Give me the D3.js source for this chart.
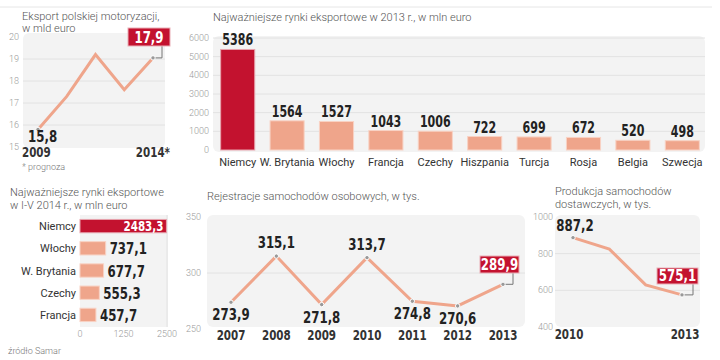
<!DOCTYPE html>
<html><head><meta charset="utf-8">
<script src="https://cdn.jsdelivr.net/npm/d3@7"></script>
<style>
body{margin:0;background:#fff;}
.t{font-family:Roboto,"Open Sans",sans-serif;font-weight:300;font-size:11px;fill:#555;}
.ax{font-family:Roboto,sans-serif;font-weight:300;font-size:9px;fill:#999;}
.num{font-family:"DejaVu Sans Condensed","DejaVu Sans",sans-serif;font-weight:bold;fill:#222;}
.cat{font-family:Roboto,sans-serif;font-weight:400;font-size:11px;fill:#333;}
</style></head>
<body><svg id="c" width="720" height="360"></svg>
<script>
// ---- data ----
const exportYears = ["2009","2010","2011","2012","2014*"];
const exportValues = [15.8, 17.3, 19.2, 17.6, 19.05];
const exportTicks = [15,16,17,18,19,20];
const exportFirstLabel = "15,8";
const exportLastLabel = "17,9";

const markets2013 = ["Niemcy","W. Brytania","Włochy","Francja","Czechy","Hiszpania","Turcja","Rosja","Belgia","Szwecja"];
const values2013 = [5386,1564,1527,1043,1006,722,699,672,520,498];
const ticks2013 = [0,1000,2000,3000,4000,5000,6000];

const markets2014 = ["Niemcy","Włochy","W. Brytania","Czechy","Francja"];
const values2014 = [2483.3,737.1,677.7,555.3,457.7];
const ticks2014 = [0,1250,2500];

const regYears = ["2007","2008","2009","2010","2011","2012","2013"];
const regValues = [273.9,315.1,271.8,313.7,274.8,270.6,289.9];
const regTicks = [250,300,350];

const prodYears = ["2010","2011","2012","2013"];
const prodValues = [887.2,825,630,575.1];
const prodTicks = [400,600,800,1000];

// ---- styles ----
const RED="#c3122f", SAL="#efa58b", BG="#f3f3f3", GRID="#e2e2e2";
const svg=d3.select("#c");
const fmt = v => String(v).replace(".",",");

svg.append("line").attr("x1",0).attr("x2",712).attr("y1",7).attr("y2",7).attr("stroke","#e6e6e6");

// condensed bold number text
function num(g,x,y,text,size,anchor,color){
  return g.append("text").attr("class","num")
    .attr("transform",`translate(${x},${y}) scale(0.82,1)`)
    .attr("text-anchor",anchor||"start").attr("font-size",size)
    .style("fill",color||"#222").text(text);
}
function redBox(g,x1,y1,w,h,text){
  g.append("rect").attr("x",x1).attr("y",y1).attr("width",w).attr("height",h).attr("fill",RED).attr("stroke","#e9b0b8").attr("stroke-width",1);
  num(g,x1+w/2,y1+h-3,text,16,"middle","#fff");
}
function dot(g,x,y){
  g.append("circle").attr("cx",x).attr("cy",y).attr("r",2.2).attr("fill","#999").attr("stroke","#fff").attr("stroke-width",1);
}

// ===== Panel 1 =====
{
  const g=svg.append("g");
  g.append("text").attr("class","t").attr("x",22).attr("y",20).text("Eksport polskiej motoryzacji,");
  g.append("text").attr("class","t").attr("x",22).attr("y",32).text("w mld euro");
  const y=d3.scaleLinear().domain([15,20]).range([147,37]);
  const x=d3.scalePoint().domain(exportYears).range([38,153]);
  g.append("rect").attr("x",23).attr("y",33).attr("width",142).attr("height",115).attr("rx",6).attr("fill",BG);
  exportTicks.forEach(t=>{
    if(t>15&&t<20) g.append("line").attr("x1",23).attr("x2",165).attr("y1",y(t)).attr("y2",y(t)).attr("stroke",GRID);
    g.append("text").attr("class","ax").attr("x",19).attr("y",y(t)+3).attr("text-anchor","end").text(t);
  });
  const line=d3.line().x((d,i)=>x(exportYears[i])).y(d=>y(d));
  g.append("path").datum(exportValues).attr("d",line).attr("fill","none").attr("stroke",SAL).attr("stroke-width",3);
  const xl=x(exportYears[4]), yl=y(exportValues[4]);
  g.append("path").attr("d",`M${xl},${yl}H162V46`).attr("fill","none").attr("stroke","#777").attr("stroke-width",1);
  dot(g,x(exportYears[0]),y(exportValues[0])); dot(g,xl,yl);
  num(g,28,142,exportFirstLabel,16);
  redBox(g,128,28,42,18,exportLastLabel);
  num(g,22,157,exportYears[0],14,"start","#333");
  num(g,170,157,exportYears[4],14,"end","#333");
  g.append("text").attr("class","ax").attr("x",22).attr("y",170).style("fill","#777").text("* prognoza");
}

// ===== Panel 2 =====
{
  const g=svg.append("g");
  g.append("text").attr("class","t").attr("x",213).attr("y",21).text("Najważniejsze rynki eksportowe w 2013 r., w mln euro");
  const y=d3.scaleLinear().domain([0,6000]).range([150,38]);
  const x=d3.scaleBand().domain(markets2013).range([213,707]).paddingInner(0.31).paddingOuter(0.155);
  g.append("rect").attr("x",213).attr("y",36).attr("width",492).attr("height",116).attr("rx",6).attr("fill",BG);
  ticks2013.forEach(t=>{
    if(t>0) g.append("line").attr("x1",213).attr("x2",705).attr("y1",y(t)).attr("y2",y(t)).attr("stroke",GRID);
    g.append("text").attr("class","ax").attr("x",209).attr("y",y(t)+3).attr("text-anchor","end").text(t);
  });
  markets2013.forEach((m,i)=>{
    const v=values2013[i];
    g.append("rect").attr("x",x(m)).attr("y",y(v)).attr("width",x.bandwidth()).attr("height",y(0)-y(v))
      .attr("fill",i===0?RED:SAL).attr("stroke",i===0?"#e7a3ad":"#f8d2c4").attr("stroke-width",1);
    num(g,x(m)+x.bandwidth()/2,y(v)-4,v,15,"middle");
    g.append("text").attr("class","cat").attr("x",x(m)+x.bandwidth()/2).attr("y",166).attr("text-anchor","middle").text(m);
  });
}

// ===== Panel 3 =====
{
  const g=svg.append("g");
  g.append("text").attr("class","t").attr("x",10).attr("y",196).text("Najważniejsze rynki eksportowe");
  g.append("text").attr("class","t").attr("x",10).attr("y",209).text("w I-V 2014 r., w mln euro");
  const x=d3.scaleLinear().domain([0,2500]).range([80,167]);
  const y=d3.scaleBand().domain(markets2014).range([215,326]).paddingInner(0.4).paddingOuter(0.2);
  g.append("rect").attr("x",80).attr("y",215).attr("width",88).attr("height",112).attr("fill",BG);
  g.append("line").attr("x1",x(2500)).attr("x2",x(2500)).attr("y1",215).attr("y2",327).attr("stroke",GRID);
  ticks2014.forEach(t=>{
    g.append("text").attr("class","ax").attr("x",x(t)).attr("y",337).attr("text-anchor","middle").text(t);
  });
  markets2014.forEach((m,i)=>{
    const v=values2014[i], yy=y(m), h=y.bandwidth();
    g.append("rect").attr("x",x(0)).attr("y",yy).attr("width",x(v)-x(0)).attr("height",h)
      .attr("fill",i===0?RED:SAL).attr("stroke",i===0?"#e7a3ad":"#f8d2c4").attr("stroke-width",1);
    g.append("text").attr("class","cat").attr("x",76).attr("y",yy+h/2+4).attr("text-anchor","end").attr("font-size",12).text(m);
    if(i===0){
      num(g,x(v)-3,yy+h/2+5,fmt(v),14,"end","#fff");
    } else {
      num(g,x(v)+4,yy+h/2+6,fmt(v),16);
    }
  });
  g.append("text").attr("class","ax").attr("x",8).attr("y",354).attr("font-size",8).style("fill","#777").text("źródło Samar");
}

// ===== Panel 4 =====
{
  const g=svg.append("g");
  g.append("text").attr("class","t").attr("x",207).attr("y",200).text("Rejestracje samochodów osobowych, w tys.");
  const y=d3.scaleLinear().domain([250,350]).range([329,217]);
  const x=d3.scalePoint().domain(regYears).range([231,503]);
  g.append("rect").attr("x",207).attr("y",215).attr("width",318).attr("height",112).attr("rx",6).attr("fill",BG);
  g.append("line").attr("x1",207).attr("x2",525).attr("y1",y(300)).attr("y2",y(300)).attr("stroke",GRID);
  regTicks.forEach(t=>{
    g.append("text").attr("class","ax").attr("x",201).attr("y",y(t)+3).attr("text-anchor","end").text(t);
  });
  const line=d3.line().x((d,i)=>x(regYears[i])).y(d=>y(d));
  g.append("path").datum(regValues).attr("d",line).attr("fill","none").attr("stroke",SAL).attr("stroke-width",3);
  const n=regValues.length;
  const xl=x(regYears[n-1]), yl=y(regValues[n-1]);
  g.append("path").attr("d",`M${xl},${yl}H513V272`).attr("fill","none").attr("stroke","#777");
  regValues.forEach((v,i)=>{
    const cx=x(regYears[i]), cy=y(v);
    dot(g,cx,cy);
    if(i<n-1){
      const above = v>300;
      num(g,cx,above?cy-8:cy+18,fmt(v),16,"middle");
    }
    num(g,cx,340,regYears[i],14,"middle","#333");
  });
  redBox(g,480,256,39,17,fmt(regValues[n-1]));
}

// ===== Panel 5 =====
{
  const g=svg.append("g");
  g.append("text").attr("class","t").attr("x",555).attr("y",195).text("Produkcja  samochodów");
  g.append("text").attr("class","t").attr("x",555).attr("y",208).text("dostawczych, w tys.");
  const y=d3.scaleLinear().domain([400,1000]).range([327,217]);
  const x=d3.scalePoint().domain(prodYears).range([573,682]);
  g.append("rect").attr("x",555).attr("y",215).attr("width",145).attr("height",112).attr("rx",6).attr("fill",BG);
  prodTicks.forEach(t=>{
    if(t>400&&t<1000) g.append("line").attr("x1",555).attr("x2",700).attr("y1",y(t)).attr("y2",y(t)).attr("stroke",GRID);
    g.append("text").attr("class","ax").attr("x",553).attr("y",y(t)+3).attr("text-anchor","end").text(t);
  });
  const line=d3.line().x((d,i)=>x(prodYears[i])).y(d=>y(d));
  g.append("path").datum(prodValues).attr("d",line).attr("fill","none").attr("stroke",SAL).attr("stroke-width",3);
  const n=prodValues.length;
  const xl=x(prodYears[n-1]), yl=y(prodValues[n-1]);
  g.append("path").attr("d",`M${xl},${yl}H693V284`).attr("fill","none").attr("stroke","#777");
  dot(g,x(prodYears[0]),y(prodValues[0])); dot(g,xl,yl);
  num(g,575,231,fmt(prodValues[0]),16,"middle");
  redBox(g,657,268,41,16,fmt(prodValues[n-1]));
  num(g,569,339,prodYears[0],14,"middle","#333");
  num(g,685,339,prodYears[n-1],14,"middle","#333");
}
</script></body></html>
